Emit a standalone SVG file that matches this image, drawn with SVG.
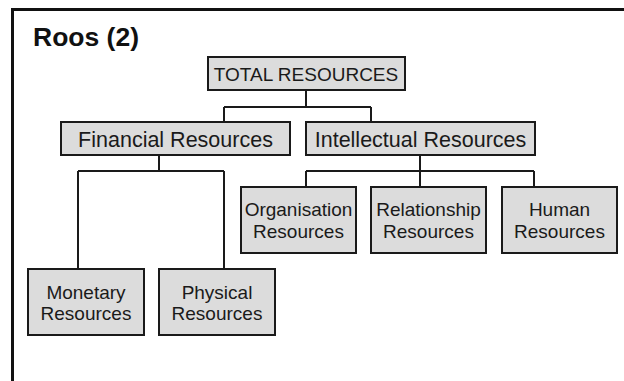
<svg xmlns="http://www.w3.org/2000/svg" width="624" height="381" viewBox="0 0 624 381">
<style>
.box{fill:#dcdcdc;stroke:#1a1a1a;stroke-width:2}
.t{font-family:"Liberation Sans",Arial,sans-serif;fill:#1a1a1a;text-anchor:middle}
.s{font-size:19px}
.m{font-size:21.5px}
.c{fill:none;stroke:#1a1a1a;stroke-width:2}
</style>
<rect width="624" height="381" fill="#fff"/>
<path d="M12.5 381 V9.5 H624" fill="none" stroke="#111" stroke-width="3"/>
<text x="33" y="45.5" font-family="Liberation Sans,Arial,sans-serif" font-weight="bold" font-size="26.5" fill="#111">Roos (2)</text>
<g id="connectors" class="c">
<path d="M306 90 V107 M224 107 H371 M224 107 V122 M371 107 V122"/>
<path d="M159 155 V171 M78 171 H224 M78 171 V269 M224 171 V269"/>
<path d="M420 155 V187 M306 171 H534 M306 171 V187 M534 171 V187"/>
</g>
<g id="total"><rect class="box" x="208" y="57" width="197" height="33"/><text class="t s" x="306" y="80.5">TOTAL RESOURCES</text></g>
<g id="financial"><rect class="box" x="61" y="122" width="229" height="33"/><text class="t m" x="175.5" y="146.5">Financial Resources</text></g>
<g id="intellectual"><rect class="box" x="306" y="122" width="229" height="33"/><text class="t m" x="420.5" y="146.5">Intellectual Resources</text></g>
<g id="organisation"><rect class="box" x="241" y="187" width="115" height="66"/><text class="t s" x="298.5" y="216">Organisation</text><text class="t s" x="298.5" y="237.5">Resources</text></g>
<g id="relationship"><rect class="box" x="371" y="187" width="115" height="66"/><text class="t s" x="428.5" y="216">Relationship</text><text class="t s" x="428.5" y="237.5">Resources</text></g>
<g id="human"><rect class="box" x="502" y="187" width="115" height="66"/><text class="t s" x="559.5" y="216">Human</text><text class="t s" x="559.5" y="237.5">Resources</text></g>
<g id="monetary"><rect class="box" x="28" y="269" width="116" height="66"/><text class="t s" x="86" y="298.5">Monetary</text><text class="t s" x="86" y="320">Resources</text></g>
<g id="physical"><rect class="box" x="159" y="269" width="116" height="66"/><text class="t s" x="217" y="298.5">Physical</text><text class="t s" x="217" y="320">Resources</text></g>
</svg>
